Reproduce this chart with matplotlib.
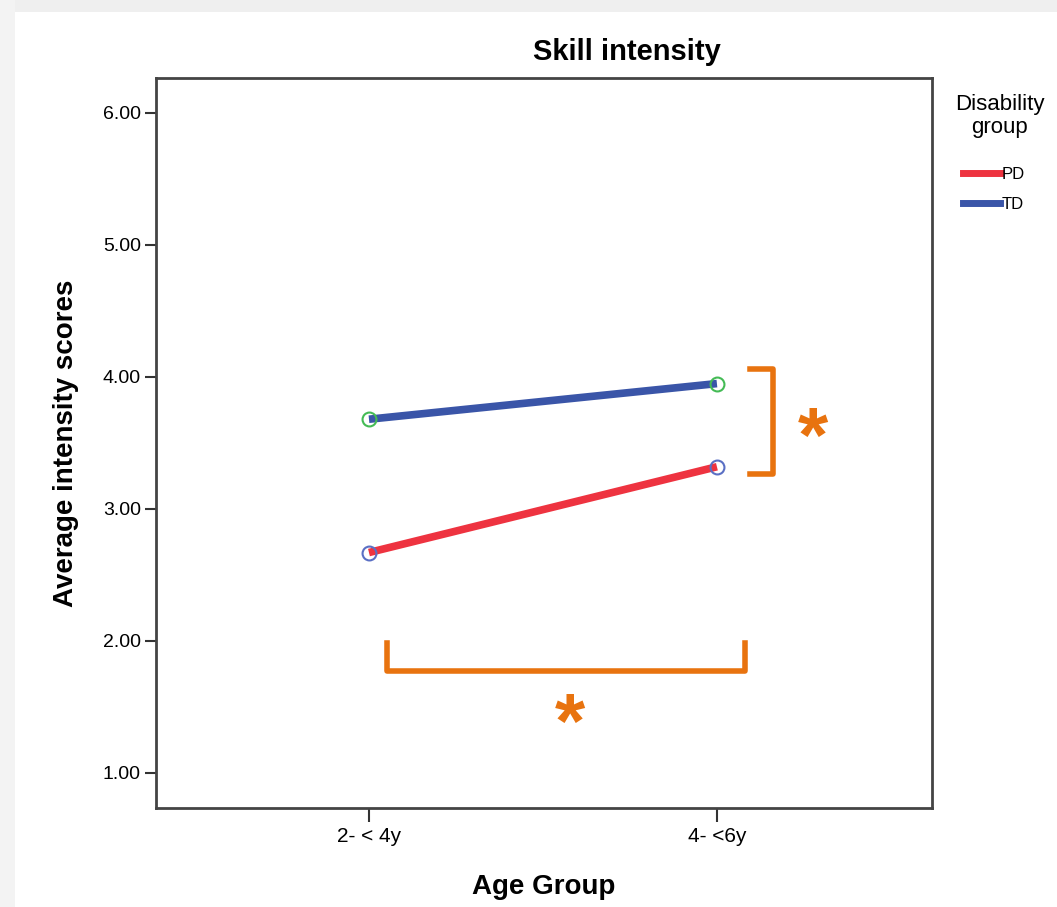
import matplotlib
matplotlib.use("Agg")
import matplotlib.pyplot as plt
from matplotlib.lines import Line2D
from matplotlib.patches import Rectangle

# data
age_groups = ["2- < 4y", "4- <6y"]
pd_scores = [2.67, 3.32]
td_scores = [3.68, 3.95]
y_ticks = [1.0, 2.0, 3.0, 4.0, 5.0, 6.0]

plt.rcParams['font.family'] = ['Liberation Sans', 'DejaVu Sans']

fig = plt.figure(figsize=(10.57, 9.07), dpi=100)
fig.patch.set_facecolor("white")
# light grey screenshot edge
fig.add_artist(Rectangle((0, 0.987), 1, 0.013, transform=fig.transFigure,
                         color="#efefef", lw=0, zorder=-5))
fig.add_artist(Rectangle((0, 0), 0.014, 1, transform=fig.transFigure,
                         color="#f3f3f3", lw=0, zorder=-5))

ax = fig.add_axes([0.1476, 0.1092, 0.7341, 0.8048])
x = list(range(len(age_groups)))

ax.plot(x, pd_scores, color="#ee3340", lw=5.5, solid_capstyle="butt", zorder=3)
ax.plot(x, td_scores, color="#3a55a8", lw=5.5, solid_capstyle="butt", zorder=3)
ax.plot(x, pd_scores, ls="none", marker="o", ms=10, mfc="none", mec="#5a6fc4", mew=1.5, zorder=4)
ax.plot(x, td_scores, ls="none", marker="o", ms=10, mfc="none", mec="#44bb55", mew=1.5, zorder=4)

ax.set_xlim(-0.612, 1.618)
ax.set_ylim(0.735, 6.265)
ax.set_xticks(x)
ax.set_xticklabels(age_groups, fontsize=15)
ax.set_yticks(y_ticks)
ax.set_yticklabels(["%.2f" % v for v in y_ticks], fontsize=14)
ax.tick_params(axis="y", length=8, width=1.5, color="#333333", pad=3)
ax.tick_params(axis="x", length=10, width=1.5, color="#333333", pad=4)
for s in ax.spines.values():
    s.set_color("#444444")
    s.set_linewidth(2)

fig.text(0.593, 0.943, "Skill intensity", fontsize=21, fontweight="bold",
         ha="center", va="center")
ax.set_xlabel("Age Group", fontsize=20, fontweight="bold", labelpad=20)
ax.set_ylabel("Average intensity scores", fontsize=20, fontweight="bold", labelpad=17)

# significance brackets
orange = "#e8730f"
ax.plot([1.095, 1.161, 1.161, 1.095], [4.06, 4.06, 3.265, 3.265], color=orange,
        lw=4, solid_joinstyle="round", clip_on=False)
ax.text(1.275, 3.51, "*", color=orange, fontsize=56, fontweight="bold",
        ha="center", va="center")
ax.plot([0.052, 0.052, 1.080, 1.080], [1.985, 1.773, 1.773, 1.985], color=orange,
        lw=4, solid_joinstyle="round", clip_on=False)
ax.text(0.578, 1.345, "*", color=orange, fontsize=56, fontweight="bold",
        ha="center", va="center")

# legend
fig.text(0.946, 0.872, "Disability\ngroup", fontsize=16, ha="center", va="center",
         multialignment="center", linespacing=1.1)
handles = [Line2D([], [], color="#ee3340", lw=5),
           Line2D([], [], color="#3a55a8", lw=5)]
fig.legend(handles, ["PD", "TD"], loc="upper left", bbox_to_anchor=(0.911, 0.816),
           frameon=False, fontsize=12, handlelength=2.2, handletextpad=0.15,
           labelspacing=0.9, borderpad=0, borderaxespad=0)

fig.savefig("out.png", dpi=100)
